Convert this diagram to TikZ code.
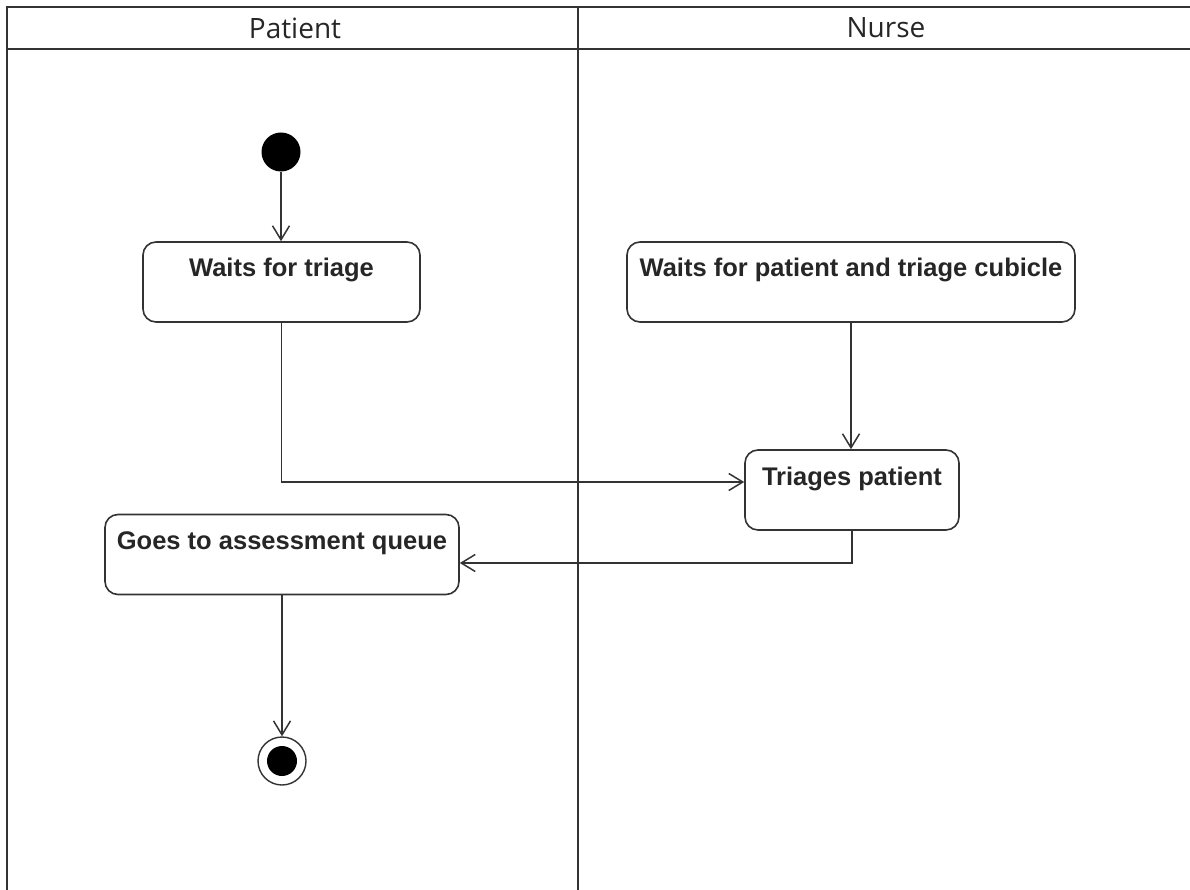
\documentclass[tikz,border=0pt]{standalone}
\usepackage{fontspec}
\setmainfont{Liberation Sans}
\newfontfamily\headfont{Open Sans}
\usetikzlibrary{arrows.meta}
\begin{document}
\begin{tikzpicture}[x=1pt,y=-1pt,
  lane/.style={draw=black!80, line width=1.6pt},
  act/.style={draw=black!80, line width=1.6pt, rounded corners=13pt, inner xsep=0pt, inner ysep=0pt,
    text height=35pt, text depth=45pt, font=\fontsize{25.5}{30}\selectfont\bfseries, text=black!85, align=center},
  flow/.style={draw=black!80, line width=1.5pt, -{Straight Barb[length=14pt,width=17pt,line width=1.5pt]}},
  hdr/.style={font=\headfont\fontsize{28}{32}\selectfont, text=black!85}]
\useasboundingbox (0,0) rectangle (1190,890);
% swimlanes
\draw[lane] (7,890) -- (7,7) -- (1190,7);
\draw[lane] (7,49) -- (1190,49);
\draw[lane] (578,7) -- (578,890);
\node[hdr] (hp) at (295,28) {Patient};
\node[hdr] (hn) at (886,28) {Nurse};
% nodes
\node[circle, fill=black, minimum size=39pt, inner sep=0pt] (start) at (281,152) {};
\node[act, minimum width=277pt] (wt) at (281.5,282) {Waits for triage};
\node[act, minimum width=448pt] (wp) at (851,282) {Waits for patient and triage cubicle};
\node[act, minimum width=214pt] (tp) at (852,490) {Triages patient};
\node[act, minimum width=354pt] (gq) at (282,554.5) {Goes to assessment queue};
\node[circle, draw=black!80, line width=1.4pt, minimum size=48pt, inner sep=0pt] (end) at (282,761) {};
\node[circle, fill=black, minimum size=30pt, inner sep=0pt] (endin) at (end.center) {};
% connectors
\draw[flow] (start) -- (wt.north -| start);
\draw[flow] (wp.south) -- (tp.north -| wp.south);
\draw[flow] (wt.south) |- (tp.west |- 0,482);
\draw[flow] (tp.south) |- (gq.east |- 0,563);
\draw[flow] (gq.south) -- (end.north);
\end{tikzpicture}
\end{document}
